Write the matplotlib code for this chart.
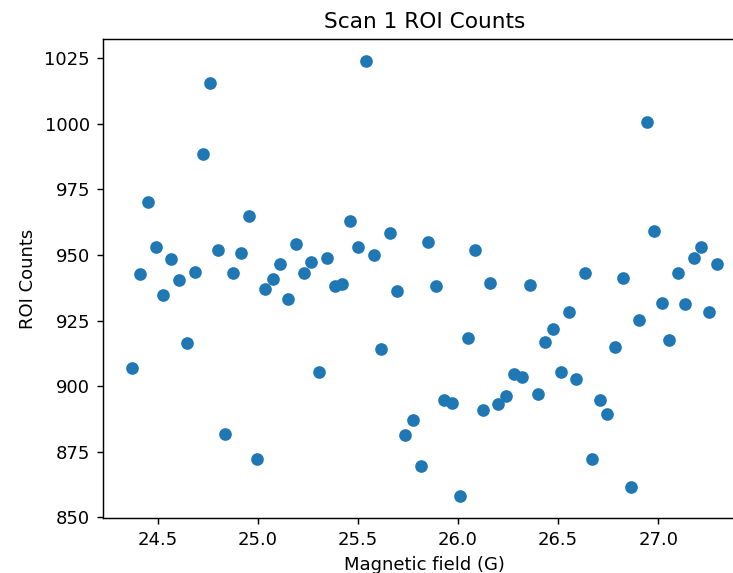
import numpy as np
import matplotlib
matplotlib.use("Agg")
import matplotlib.pyplot as plt

# Magnetic field (G) and ROI counts
field = [24.372, 24.412, 24.453, 24.492, 24.528, 24.566, 24.606, 24.645, 24.686, 24.725,
         24.762, 24.802, 24.839, 24.877, 24.919, 24.957, 24.994, 25.034, 25.074, 25.110,
         25.152, 25.190, 25.230, 25.268, 25.305, 25.346, 25.385, 25.423, 25.463, 25.501,
         25.543, 25.579, 25.618, 25.659, 25.696, 25.736, 25.775, 25.814, 25.852, 25.889,
         25.929, 25.972, 26.008, 26.048, 26.085, 26.125, 26.162, 26.202, 26.241, 26.280,
         26.319, 26.358, 26.399, 26.436, 26.474, 26.512, 26.552, 26.591, 26.632, 26.669,
         26.707, 26.745, 26.785, 26.823, 26.865, 26.903, 26.942, 26.980, 27.018, 27.056,
         27.098, 27.136, 27.176, 27.215, 27.253, 27.292]
counts = [906.8, 942.8, 970.2, 952.9, 934.9, 948.5, 940.5, 916.6, 943.7, 988.5,
          1015.6, 951.9, 881.7, 943.3, 950.6, 964.9, 872.2, 937.1, 940.8, 946.6,
          933.2, 954.0, 943.2, 947.4, 905.3, 949.0, 938.0, 939.0, 962.9, 952.9,
          1024.0, 950.0, 914.1, 958.4, 936.1, 881.5, 887.3, 869.7, 954.9, 938.0,
          894.9, 893.6, 858.0, 918.5, 951.9, 891.0, 939.3, 893.3, 896.4, 904.6,
          903.7, 938.7, 896.9, 917.0, 921.9, 905.3, 928.3, 902.7, 943.1, 872.2,
          894.8, 889.5, 915.1, 941.4, 861.8, 925.4, 1000.7, 959.3, 931.7, 917.8,
          943.1, 931.3, 949.0, 952.9, 928.3, 946.6]

dpi = 130
fig = plt.figure(figsize=(733/dpi, 573/dpi), dpi=dpi)
# axes run past the right edge, like the cropped original
ax = fig.add_axes([0.1401, 0.0955, 0.8776, 0.8365])
ax.scatter(field, counts)
ax.set_xlabel("Magnetic field (G)")
ax.set_ylabel("ROI Counts")
ax.set_title("Scan 1 ROI Counts")

fig.savefig("out.png", dpi=dpi)
